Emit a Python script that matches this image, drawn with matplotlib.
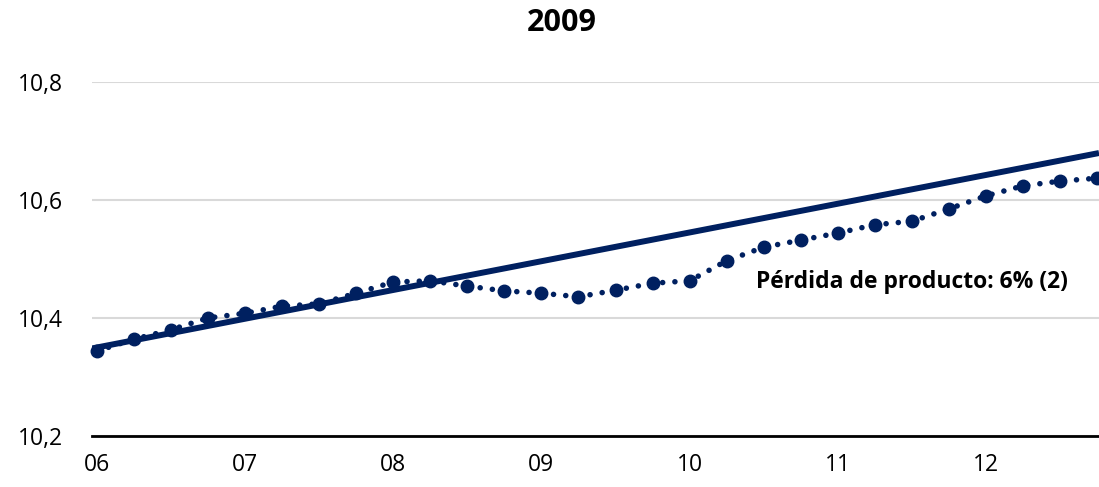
import matplotlib
matplotlib.use("Agg")
import matplotlib.pyplot as plt

# Data (quarterly, 2006Q1 .. 2012Q4), log GDP
quarters = list(range(28))
year_labels = ["06", "07", "08", "09", "10", "11", "12"]
year_tick_idx = [0, 4, 8, 12, 16, 20, 24]
gdp = [10.344, 10.364, 10.380, 10.400, 10.408, 10.420, 10.424, 10.442,
       10.461, 10.463, 10.454, 10.446, 10.442, 10.436, 10.447, 10.459,
       10.463, 10.497, 10.520, 10.532, 10.544, 10.558, 10.564, 10.585,
       10.607, 10.624, 10.632, 10.637]
trend_idx = [0, 27]
trend_val = [10.350, 10.679]
title = "2009"
note = "Pérdida de producto: 6% (2)"

navy = "#002060"
plt.rcParams['font.family'] = ['Open Sans', 'DejaVu Sans']

fig = plt.figure(figsize=(10.99, 4.87), dpi=100)
ax = fig.add_axes([92/1099, 51/487, 1 - 92/1099, (436-82)/487])

ax.axline((trend_idx[0], trend_val[0]), (trend_idx[1], trend_val[1]),
          color=navy, lw=4.3, solid_capstyle='butt', zorder=3)
ax.plot(quarters, gdp, color=navy, lw=4.0, linestyle=(0, (0.01, 2.2)),
        dash_capstyle='round', marker='o', markersize=9, zorder=4,
        clip_on=False)

ax.set_xlim(-0.13, 27.05)
ax.set_ylim(10.2, 10.8)
ax.set_yticks([10.2, 10.4, 10.6, 10.8])
ax.set_yticklabels(["10,2", "10,4", "10,6", "10,8"])
ax.set_xticks(year_tick_idx)
ax.set_xticklabels(year_labels)
ax.tick_params(axis='both', length=0, labelsize=16.5, colors='#000000')
ax.tick_params(axis='y', pad=21)
ax.tick_params(axis='x', pad=12)

ax.grid(axis='y', color='#d9d9d9', lw=1.5)
ax.set_axisbelow(True)
for s in ['top', 'right', 'left']:
    ax.spines[s].set_visible(False)
ax.spines['bottom'].set_color('black')
ax.spines['bottom'].set_linewidth(2)
ax.spines['bottom'].set_zorder(2)

fig.text(562/1099, 1 - 23/487, title, ha='center', va='center',
         fontsize=22, fontweight='bold')
ax.text(0.814, 0.435, note, transform=ax.transAxes, ha='center', va='center',
        fontsize=16.5, fontweight='bold')

fig.savefig("out.png", dpi=100)
